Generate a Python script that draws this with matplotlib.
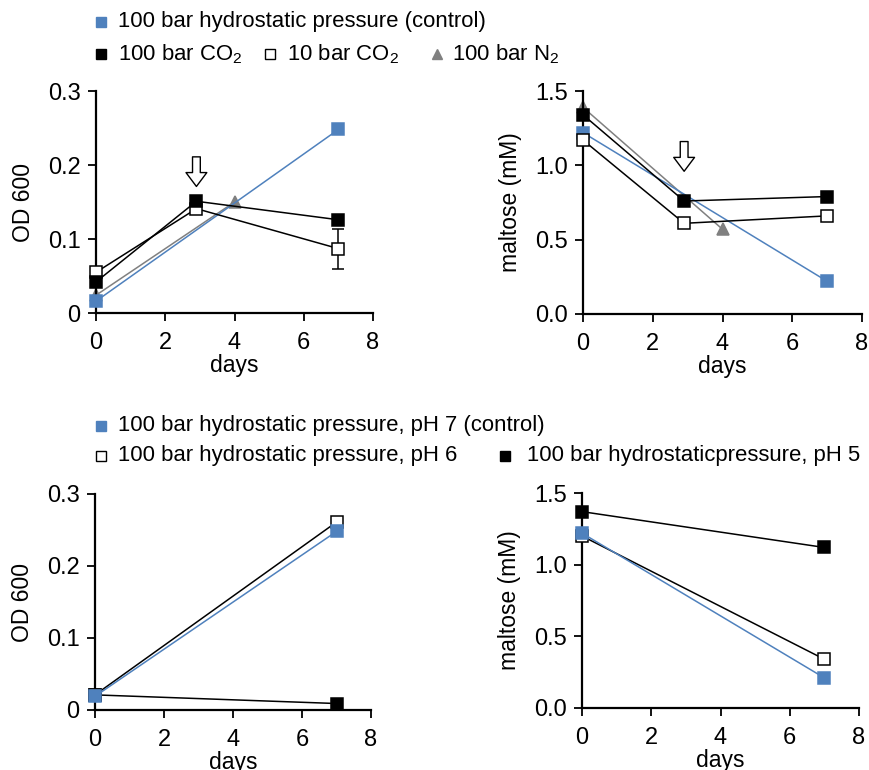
import numpy as np
import matplotlib
matplotlib.use("Agg")
import matplotlib.pyplot as plt
from matplotlib.lines import Line2D

plt.rcParams['font.family'] = ['Liberation Sans', 'DejaVu Sans']
plt.rcParams['mathtext.fontset'] = 'custom'
plt.rcParams['mathtext.rm'] = 'Liberation Sans'
plt.rcParams['font.size'] = 15.9

BLUE = '#4f81bd'
GRAY = '#808080'

# --- top row: gas treatments ---
ctrl_days = [0, 7]
ctrl_od = [0.016, 0.248]
ctrl_malt = [1.22, 0.22]

co2_100_days = [0, 2.9, 7]
co2_100_od = [0.042, 0.151, 0.126]
co2_100_malt = [1.34, 0.76, 0.79]

co2_10_days = [0, 2.9, 7]
co2_10_od = [0.055, 0.141, 0.087]
co2_10_od_err = [0, 0, 0.027]
co2_10_malt = [1.17, 0.61, 0.66]

n2_days = [0, 4]
n2_od = [0.024, 0.150]
n2_malt = [1.39, 0.57]

addition_day = 2.9

# --- bottom row: pH ---
ph_days = [0, 7]
ph7_od = [0.019, 0.248]
ph6_od = [0.021, 0.261]
ph5_od = [0.021, 0.009]
ph7_malt = [1.22, 0.21]
ph6_malt = [1.20, 0.34]
ph5_malt = [1.37, 1.12]

W, H = 869, 770
fig = plt.figure(figsize=(W / 100, H / 100), dpi=100)


def make_ax(l, r, t, b):
    return fig.add_axes([l / W, 1 - b / H, (r - l) / W, (b - t) / H])


def style(ax, ymax, yticks, ylabels, ylabel):
    ax.set_xlim(0, 8)
    ax.set_ylim(0, ymax)
    ax.set_xticks([0, 2, 4, 6, 8])
    ax.set_yticks(yticks)
    ax.set_yticklabels(ylabels)
    for s in ['top', 'right']:
        ax.spines[s].set_visible(False)
    for s in ['left', 'bottom']:
        ax.spines[s].set_linewidth(1.6)
    ax.tick_params(direction='out', length=6, width=1.3, labelsize=17)
    ax.tick_params(axis='x', pad=8)
    ax.tick_params(axis='y', pad=5)
    ax.set_xlabel('days', fontsize=16.5, labelpad=0)
    ax.set_ylabel(ylabel, fontsize=16.5, labelpad=9)


def series(ax, x, y, color, marker, mfc, ms=9, lc=None, z=3, yerr=None):
    ax.plot(x, y, color=lc or color, lw=1.1, marker=marker, ms=ms,
            mfc=mfc, mec=color, mew=1.1, clip_on=False, zorder=z)
    if yerr is not None:
        ax.errorbar(x, y, yerr=yerr, fmt='none', ecolor=color, elinewidth=1.1,
                    capsize=4, capthick=1.1, zorder=z - 0.5, clip_on=False)


def arrow(ax, x, ytop, ybot):
    ax.annotate('', xy=(x, ybot), xytext=(x, ytop),
                arrowprops=dict(arrowstyle='simple,head_width=0.75,head_length=0.5,tail_width=0.28',
                                fc='white', ec='black', lw=1.0, shrinkA=0, shrinkB=0,
                                mutation_scale=20))


# top left: OD
ax1 = make_ax(96, 373, 91, 313)
series(ax1, n2_days, n2_od, GRAY, '^', GRAY, lc=GRAY, z=2)
series(ax1, ctrl_days, ctrl_od, BLUE, 's', BLUE, z=3)
series(ax1, co2_10_days, co2_10_od, 'black', 's', 'white', z=4, yerr=co2_10_od_err)
series(ax1, co2_100_days, co2_100_od, 'black', 's', 'black', z=5)
arrow(ax1, addition_day, 0.211, 0.171)
style(ax1, 0.3, [0, 0.1, 0.2, 0.3], ['0', '0.1', '0.2', '0.3'], 'OD 600')

# top right: maltose
ax2 = make_ax(583, 862, 91, 314)
series(ax2, n2_days, n2_malt, GRAY, '^', GRAY, lc=GRAY, z=2)
series(ax2, ctrl_days, ctrl_malt, BLUE, 's', BLUE, z=3)
series(ax2, co2_10_days, co2_10_malt, 'black', 's', 'white', z=4)
series(ax2, co2_100_days, co2_100_malt, 'black', 's', 'black', z=5)
arrow(ax2, addition_day, 1.16, 0.96)
style(ax2, 1.5, [0, 0.5, 1.0, 1.5], ['0.0', '0.5', '1.0', '1.5'], 'maltose (mM)')

# bottom left: OD at different pH
ax3 = make_ax(95, 371, 494, 710)
series(ax3, ph_days, ph5_od, 'black', 's', 'black', z=3)
series(ax3, ph_days, ph6_od, 'black', 's', 'white', z=4)
series(ax3, ph_days, ph7_od, BLUE, 's', BLUE, z=5)
style(ax3, 0.3, [0, 0.1, 0.2, 0.3], ['0', '0.1', '0.2', '0.3'], 'OD 600')

# bottom right: maltose at different pH
ax4 = make_ax(582, 859, 493, 708)
series(ax4, ph_days, ph5_malt, 'black', 's', 'black', z=3)
series(ax4, ph_days, ph6_malt, 'black', 's', 'white', z=4)
series(ax4, ph_days, ph7_malt, BLUE, 's', BLUE, z=5)
style(ax4, 1.5, [0, 0.5, 1.0, 1.5], ['0.0', '0.5', '1.0', '1.5'], 'maltose (mM)')


# legends drawn as loose figure text
def key(px, py, marker, color, mfc, label, tx=17):
    fig.add_artist(Line2D([px / W], [1 - py / H], transform=fig.transFigure,
                          marker=marker, ms=7.5, mfc=mfc, mec=color, mew=1.0, ls='none'))
    fig.text((px + tx) / W, 1 - py / H, label, va='center', ha='left')


key(101, 22, 's', BLUE, BLUE, '100 bar hydrostatic pressure (control)')
key(101, 54, 's', 'black', 'black', '100 bar CO$_2$')
key(270, 54, 's', 'black', 'white', '10 bar CO$_2$')
key(437, 54, '^', GRAY, GRAY, '100 bar N$_2$', tx=15)

key(101, 426, 's', BLUE, BLUE, '100 bar hydrostatic pressure, pH 7 (control)')
key(101, 456, 's', 'black', 'white', '100 bar hydrostatic pressure, pH 6')
key(505, 456, 's', 'black', 'black', '100 bar hydrostaticpressure, pH 5', tx=22)

fig.savefig('out.png', dpi=100)
